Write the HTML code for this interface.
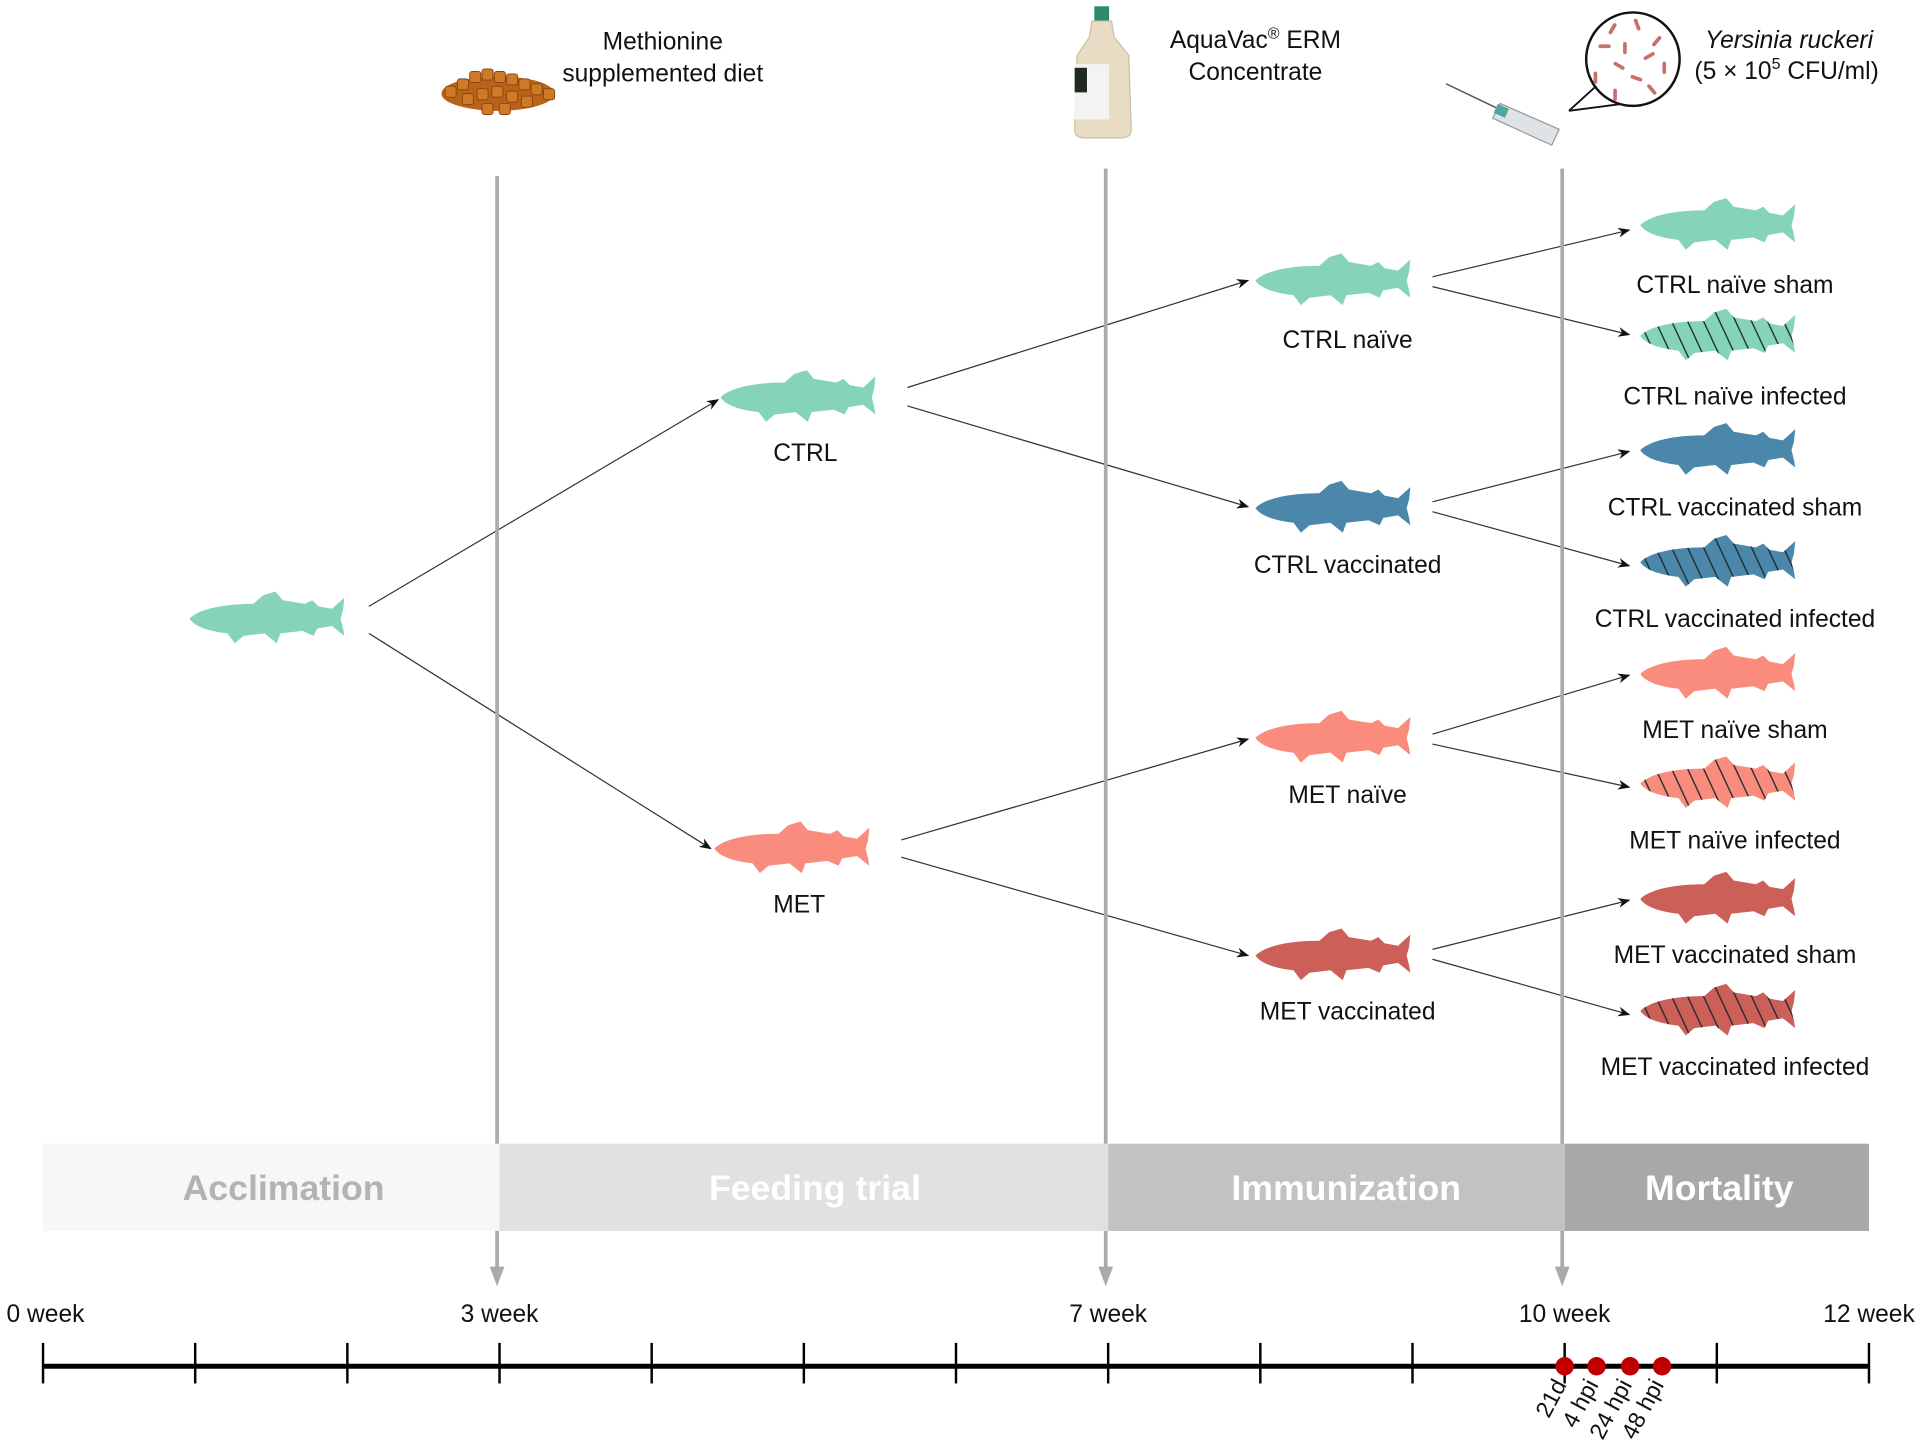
<!DOCTYPE html>
<html><head><meta charset="utf-8">
<style>
html,body{margin:0;padding:0;background:#fff;}
svg{display:block;font-family:"Liberation Sans",Arial,sans-serif;}
</style></head>
<body>
<svg id="fig" width="1928" height="1450" viewBox="0 0 1568 1179" xmlns="http://www.w3.org/2000/svg">
<defs>
  <path id="fishShape" d="M-64,0 C-56,-8 -36,-12 -12,-12 L-4,-19 L6,-22 L12,-15 L30,-12 L36,-15 L41,-10 L52,-8 L62,-17 L61,-7 L59,0 L61,8 L62,14 L52,6 L40,8 L37,14 L28,10 L10,12 L7,20 L-3,12 L-20,14 L-27,20 L-33,12 C-50,10 -60,6 -64,0 Z"/>
  <pattern id="hatch" patternUnits="userSpaceOnUse" width="13" height="60" patternTransform="skewX(25)">
    <line x1="6" y1="0" x2="6" y2="60" stroke="#1a2a2a" stroke-width="1.2"/>
  </pattern>
  <marker id="arr" markerWidth="10" markerHeight="8" refX="9" refY="4" orient="auto" markerUnits="userSpaceOnUse">
    <path d="M0,0 L10,4 L0,8 L3,4 Z" fill="#111"/>
  </marker>
</defs>
<g id="layer-lines"></g>
<g id="layer-vlines"></g>
<g id="layer-band"></g>
<g id="layer-axis"></g>
<g id="layer-fish"></g>
<g id="layer-icons">
  <g>
    <ellipse cx="405" cy="76" rx="46" ry="14" fill="#b8621a"/>
    <g fill="#cf7a27" stroke="#8a4610" stroke-width="0.8">
      <rect x="362" y="70" width="9" height="9" rx="2"/><rect x="372" y="64" width="9" height="9" rx="2"/>
      <rect x="382" y="58" width="9" height="9" rx="2"/><rect x="392" y="56" width="9" height="9" rx="2"/>
      <rect x="402" y="58" width="9" height="9" rx="2"/><rect x="412" y="60" width="9" height="9" rx="2"/>
      <rect x="422" y="64" width="9" height="9" rx="2"/><rect x="432" y="68" width="9" height="9" rx="2"/>
      <rect x="442" y="72" width="9" height="9" rx="2"/><rect x="376" y="76" width="9" height="9" rx="2"/>
      <rect x="388" y="72" width="9" height="9" rx="2"/><rect x="400" y="70" width="9" height="9" rx="2"/>
      <rect x="412" y="74" width="9" height="9" rx="2"/><rect x="424" y="78" width="9" height="9" rx="2"/>
      <rect x="392" y="84" width="9" height="9" rx="2"/><rect x="406" y="84" width="9" height="9" rx="2"/>
    </g>
  </g>
  <g>
    <rect x="890" y="5" width="12" height="12" fill="#2e8a6a"/>
    <path d="M888,17 L904,17 L906,30 L918,45 L920,105 Q920,112 912,112 L882,112 Q874,112 874,105 L876,45 L886,30 Z" fill="#e8dcc4" stroke="#cbbf9f"/>
    <rect x="874" y="52" width="28" height="45" fill="#f3f3f3"/>
    <rect x="874" y="55" width="10" height="20" fill="#1e2a22"/>
  </g>
  <g>
    <line x1="1176" y1="68" x2="1222" y2="90" stroke="#555" stroke-width="1.2"/>
    <path d="M1220,84 L1268,105 L1262,118 L1214,96 Z" fill="#dfe3e6" stroke="#999"/>
    <rect x="1216" y="86" width="10" height="8" fill="#4fa7a0" transform="rotate(24 1221 90)"/>
  </g>
  <g>
    <line x1="1276" y1="90" x2="1298" y2="70" stroke="#111" stroke-width="1.5"/>
    <line x1="1276" y1="90" x2="1322" y2="84" stroke="#111" stroke-width="1.5"/>
    <circle cx="1328" cy="48" r="38" fill="#fff" stroke="#111" stroke-width="2"/>
    <g fill="#c9706c">
      <rect x="1310" y="18" width="3" height="10" rx="1.5" transform="rotate(30 1311 23)"/>
      <rect x="1330" y="15" width="3" height="10" rx="1.5" transform="rotate(-20 1331 20)"/>
      <rect x="1346" y="28" width="3" height="10" rx="1.5" transform="rotate(40 1347 33)"/>
      <rect x="1300" y="36" width="10" height="3" rx="1.5"/>
      <rect x="1320" y="34" width="3" height="10" rx="1.5"/>
      <rect x="1336" y="44" width="10" height="3" rx="1.5" transform="rotate(-30 1341 45)"/>
      <rect x="1352" y="50" width="3" height="10" rx="1.5"/>
      <rect x="1312" y="52" width="10" height="3" rx="1.5" transform="rotate(30 1317 53)"/>
      <rect x="1296" y="58" width="3" height="10" rx="1.5"/>
      <rect x="1326" y="62" width="10" height="3" rx="1.5" transform="rotate(20 1331 63)"/>
      <rect x="1312" y="72" width="3" height="10" rx="1.5"/>
      <rect x="1342" y="68" width="3" height="10" rx="1.5" transform="rotate(-40 1343 73)"/>
    </g>
  </g>
</g>
<g id="layer-text" font-size="20" fill="#111" text-anchor="middle">
  <text x="539" y="40">Methionine</text>
  <text x="539" y="66">supplemented diet</text>
  <text x="1021" y="39">AquaVac<tspan font-size="13" dy="-8">®</tspan><tspan dy="8"> ERM</tspan></text>
  <text x="1021" y="65">Concentrate</text>
  <text x="1455" y="39" font-style="italic">Yersinia ruckeri</text>
  <text x="1453" y="64">(5 × 10<tspan font-size="13" dy="-8">5</tspan><tspan dy="8"> CFU/ml)</tspan></text>
</g>
<script>
// ---- data ----
const weekTicks = [0,1,2,3,4,5,6,7,8,9,10,11,12];
const weekLabels = [0,3,7,10,12];
const milestoneWeeks = [3,7,10];
const phaseNames = ["Acclimation","Feeding trial","Immunization","Mortality"];
const phaseStart = [0,3,7,10];
const phaseEnd = [3,7,10,12];
const phaseFill = ["#f7f7f7","#e1e1e1","#c2c2c2","#a8a8a8"];
const phaseText = ["#b3b3b3","#ffffff","#ffffff","#ffffff"];
const sampleWeeks = [10,10.21,10.43,10.64];
const sampleLabels = ["21d","4 hpi","24 hpi","48 hpi"];

const NS="http://www.w3.org/2000/svg";
const x = w => 35 + w*(1485/12);
function mk(tag, attrs, parent){const e=document.createElementNS(NS,tag);for(const k in attrs)e.setAttribute(k,attrs[k]);parent.appendChild(e);return e;}

const labelShift=[10,9,8,2];
const band=document.getElementById('layer-band');
phaseNames.forEach((n,i)=>{
  const r=mk('rect',{x:x(phaseStart[i]),y:930,width:x(phaseEnd[i])-x(phaseStart[i]),height:71,fill:phaseFill[i]},band);
  
  
  const t=mk('text',{x:(x(phaseStart[i])+x(phaseEnd[i]))/2 + labelShift[i],y:976,'font-size':29,'font-weight':'bold','text-anchor':'middle',fill:phaseText[i]},band);
  t.textContent=n;
  
  
});

const vl=document.getElementById('layer-vlines');
milestoneWeeks.forEach((w,i)=>{
  const l=mk('line',{x1:x(w)-2,y1:i==0?143:137,x2:x(w)-2,y2:1036,stroke:'#aaaaaa','stroke-width':3},vl);
  
  
  const a=mk('path',{d:`M${x(w)-8},1030 L${x(w)+4},1030 L${x(w)-2},1046 Z`,fill:'#aaaaaa'},vl);
  
  
});

const ax=document.getElementById('layer-axis');
const axl=mk('line',{x1:x(0),y1:1111,x2:x(12),y2:1111,stroke:'#000','stroke-width':4},ax);


weekTicks.forEach(w=>{
  const t=mk('line',{x1:x(w),y1:1092,x2:x(w),y2:1125,stroke:'#000','stroke-width':2},ax);
  
  
});
weekLabels.forEach(w=>{
  const t=mk('text',{x:x(w)+(w==0?2:0),y:1075,'font-size':20,'text-anchor':'middle',fill:'#111'},ax);
  t.textContent=w+' week';
  
  
});
sampleWeeks.forEach((w,i)=>{
  const c=mk('circle',{cx:x(w),cy:1111,r:7.5,fill:'#c00000'},ax);
  
  
  const t=mk('text',{x:x(w)+2,y:1126,'font-size':19,'text-anchor':'end',fill:'#111',transform:`rotate(-62 ${x(w)+2} 1126)`},ax);
  t.textContent=sampleLabels[i];
  
  
});

const fishLayer=document.getElementById('layer-fish');
const C={mint:'#86d4b8',blue:'#4b87aa',salmon:'#f98c7c',red:'#cd5f59'};
const fishes=[
 ['start-fish',218,503,C.mint,false,null,0],
 ['ctrl-fish',650,323,C.mint,false,'CTRL',368],
 ['met-fish',645,690,C.salmon,false,'MET',735],
 ['ctrl-naive-fish',1085,228,C.mint,false,'CTRL naïve',276],
 ['ctrl-vaccinated-fish',1085,413,C.blue,false,'CTRL vaccinated',459],
 ['met-naive-fish',1085,600,C.salmon,false,'MET naïve',646],
 ['met-vaccinated-fish',1085,777,C.red,false,'MET vaccinated',822],
 ['ctrl-naive-sham-fish',1398,183,C.mint,false,'CTRL naïve sham',231],
 ['ctrl-naive-infected-fish',1398,273,C.mint,true,'CTRL naïve infected',322],
 ['ctrl-vaccinated-sham-fish',1398,366,C.blue,false,'CTRL vaccinated sham',412],
 ['ctrl-vaccinated-infected-fish',1398,457,C.blue,true,'CTRL vaccinated infected',503],
 ['met-naive-sham-fish',1398,548,C.salmon,false,'MET naïve sham',593],
 ['met-naive-infected-fish',1398,637,C.salmon,true,'MET naïve infected',683],
 ['met-vaccinated-sham-fish',1398,731,C.red,false,'MET vaccinated sham',776],
 ['met-vaccinated-infected-fish',1398,822,C.red,true,'MET vaccinated infected',867]
];
fishes.forEach(f=>{
  const g=mk('g',{transform:`translate(${f[1]},${f[2]})`},fishLayer);
  
  
  mk('use',{href:'#fishShape',fill:f[3]},g);
  if(f[4]) mk('use',{href:'#fishShape',fill:'url(#hatch)'},g);
  if(f[5]){
    const lx = f[1]>1300 ? 1411 : f[1]+(f[1]>1000?11:5);
    const t=mk('text',{x:lx,y:f[6]+7,'font-size':20,'text-anchor':'middle',fill:'#111'},fishLayer);
    t.textContent=f[5];
    
    
  }
});

const ll=document.getElementById('layer-lines');
const links=[
 [300,493,584,325],[300,515,578,690],
 [738,315,1015,228],[738,330,1015,412],
 [733,683,1015,601],[733,697,1015,777],
 [1165,225,1325,187],[1165,233,1325,272],
 [1165,408,1325,367],[1165,416,1325,460],
 [1165,597,1325,549],[1165,605,1325,640],
 [1165,772,1325,732],[1165,780,1325,825]
];
links.forEach(p=>{
  const l=mk('line',{x1:p[0],y1:p[1],x2:p[2],y2:p[3],stroke:'#333','stroke-width':1,'marker-end':'url(#arr)'},ll);
  
  
});
</script>
</svg>
</body></html>
